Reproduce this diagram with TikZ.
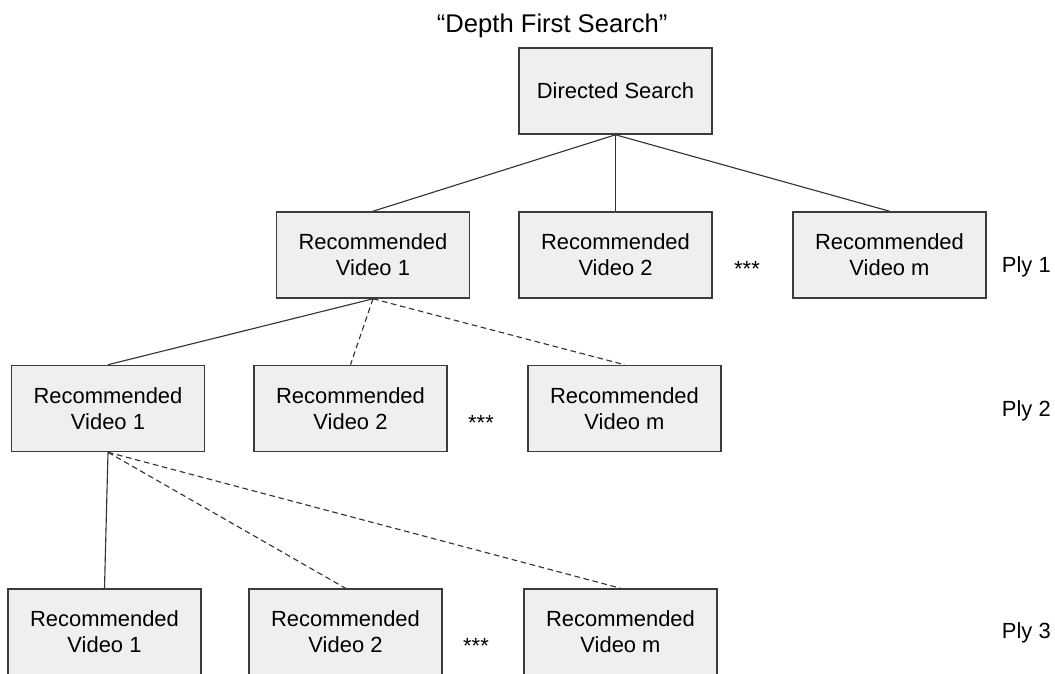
\documentclass[tikz,border=0pt]{standalone}
\usepackage{fontspec}
\setmainfont{Liberation Sans}
\usepackage{xcolor}
\definecolor{box-fill}{HTML}{EFEFEF}
\definecolor{box-line}{HTML}{3C3C3C}
\definecolor{edge-line}{HTML}{333333}

\begin{document}
\begin{tikzpicture}[x=0.025cm, y=-0.025cm,
        every node/.style={font=\fontsize{15.6}{18.6}\selectfont},
        vidbox/.style={draw=box-line, line width=1.1pt, fill=box-fill,
            minimum width=4.825cm, minimum height=2.15cm, align=center, inner sep=0pt},
        tree/.style={draw=edge-line, line width=0.8pt},
        alt/.style={tree, dash pattern=on 4pt off 2.6pt}]
      \useasboundingbox (0,0) rectangle (1055,673);
      \clip (0,0) rectangle (1055,673);
      % title
      \node[anchor=base west, font=\fontsize{18.2}{22}\selectfont] (TITLE) at (432,32) {“Depth First Search”};
      % root
      \node[vidbox] (ROOT) at (615.5,91) {Directed Search};
      % ply 1
      \node[vidbox] (P1A) at (373,255) {Recommended\\Video 1};
      \node[vidbox] (P1B) at (615.5,255) {Recommended\\Video 2};
      \node[vidbox] (P1M) at (889.5,255) {Recommended\\Video m};
      \node[anchor=base] (DOTS1) at (747,276) {***};
      \node[anchor=base west] (PLY1) at (997,272) {Ply 1};
      \draw[tree] (ROOT.south) -- (P1A.north);
      \draw[tree] (ROOT.south) -- (P1B.north);
      \draw[tree] (ROOT.south) -- (P1M.north);
      % ply 2
      \node[vidbox] (P2A) at (108,408.5) {Recommended\\Video 1};
      \node[vidbox] (P2B) at (350.5,408.5) {Recommended\\Video 2};
      \node[vidbox] (P2M) at (624.5,408.5) {Recommended\\Video m};
      \node[anchor=base] (DOTS2) at (481,430) {***};
      \node[anchor=base west] (PLY2) at (997,416) {Ply 2};
      \draw[tree] (P1A.south) -- (P2A.north);
      \draw[alt] (P1A.south) -- (P2B.north);
      \draw[alt] (P1A.south) -- (P2M.north);
      % ply 3
      \node[vidbox] (P3A) at (104.5,632) {Recommended\\Video 1};
      \node[vidbox] (P3B) at (345.5,632) {Recommended\\Video 2};
      \node[vidbox] (P3M) at (620.5,632) {Recommended\\Video m};
      \node[anchor=base] (DOTS3) at (476,653) {***};
      \node[anchor=base west] (PLY3) at (997,638) {Ply 3};
      \draw[tree] (P2A.south) -- (P3A.north);
      \draw[alt] (P2A.south) -- (P3B.north);
      \draw[alt] (P2A.south) -- (P3M.north);
    \end{tikzpicture}
\end{document}
